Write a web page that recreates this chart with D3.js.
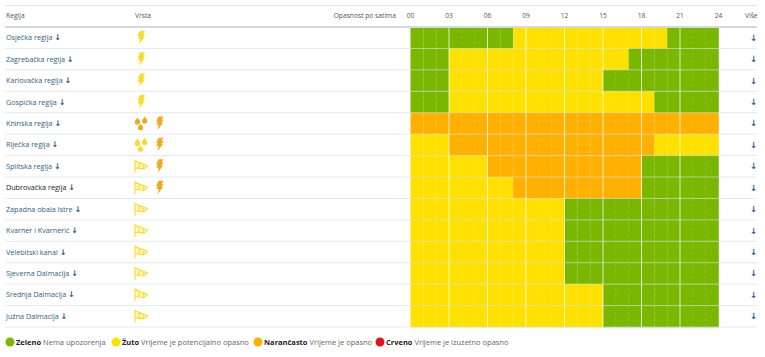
<!DOCTYPE html>
<html lang="hr">
<head>
<meta charset="UTF-8"/>
<title>Opasnost po satima</title>
<script src="https://d3js.org/d3.v7.min.js"></script>
<style>
	html,body{margin:0;padding:0;background:#fff;overflow:hidden;}
	svg{display:block;font-family:"Open Sans",sans-serif;}
</style>
</head>
<body>
<script>

var w=765;
var h=357;

// regions, top to bottom
var regions=["Osječka regija","Zagrebačka regija","Karlovačka regija","Gospićka regija","Kninska regija","Riječka regija","Splitska regija","Dubrovačka regija","Zapadna obala Istre","Kvarner i Kvarnerić","Velebitski kanal","Sjeverna Dalmacija","Srednja Dalmacija","Južna Dalmacija"];

// warning level for every hour 00-23: 0 green, 1 yellow, 2 orange
var osijek   =[0,0,0,0,0,0,0,0,1,1,1,1,1,1,1,1,1,1,1,1,0,0,0,0];
var zagreb   =[0,0,0,1,1,1,1,1,1,1,1,1,1,1,1,1,1,0,0,0,0,0,0,0];
var karlovac =[0,0,0,1,1,1,1,1,1,1,1,1,1,1,1,0,0,0,0,0,0,0,0,0];
var gospic   =[0,0,0,1,1,1,1,1,1,1,1,1,1,1,1,1,1,1,1,0,0,0,0,0];
var knin     =[2,2,2,2,2,2,2,2,2,2,2,2,2,2,2,2,2,2,2,2,2,2,2,2];
var rijeka   =[1,1,1,2,2,2,2,2,2,2,2,2,2,2,2,2,2,2,2,1,1,1,1,1];
var split    =[1,1,1,1,1,1,2,2,2,2,2,2,2,2,2,2,2,2,0,0,0,0,0,0];
var dubrovnik=[1,1,1,1,1,1,1,1,2,2,2,2,2,2,2,2,2,2,0,0,0,0,0,0];
var istra    =[1,1,1,1,1,1,1,1,1,1,1,1,0,0,0,0,0,0,0,0,0,0,0,0];
var kvarner  =[1,1,1,1,1,1,1,1,1,1,1,1,0,0,0,0,0,0,0,0,0,0,0,0];
var velebit  =[1,1,1,1,1,1,1,1,1,1,1,1,0,0,0,0,0,0,0,0,0,0,0,0];
var sjeverna =[1,1,1,1,1,1,1,1,1,1,1,1,0,0,0,0,0,0,0,0,0,0,0,0];
var srednja  =[1,1,1,1,1,1,1,1,1,1,1,1,1,1,1,0,0,0,0,0,0,0,0,0];
var juzna    =[1,1,1,1,1,1,1,1,1,1,1,1,1,1,1,0,0,0,0,0,0,0,0,0];
var levels=[osijek,zagreb,karlovac,gospic,knin,rijeka,split,dubrovnik,istra,kvarner,velebit,sjeverna,srednja,juzna];

// warning type icons per region, name + level
var vrsta=[
	[["bolt",1]],[["bolt",1]],[["bolt",1]],[["bolt",1]],
	[["rain",2],["bolt",2]],
	[["rain",1],["bolt",2]],
	[["wind",1],["bolt",2]],
	[["wind",1],["bolt",2]],
	[["wind",1]],[["wind",1]],[["wind",1]],[["wind",1]],[["wind",1]],[["wind",1]]
];

var hourTicks=[0,3,6,9,12,15,18,21,24];
var hourLabels=["00","03","06","09","12","15","18","21","24"];

var colors=["#79b700","#ffe100","#ffb000","#e2141c"];
var iconColors=["#79b700","#f7dc2e","#eeaa22"];
var legendNames=["Zeleno","Žuto","Narančasto","Crveno"];
var legendTexts=["Nema upozorenja","Vrijeme je potencijalno opasno","Vrijeme je opasno","Vrijeme je izuzetno opasno"];

var padLeft=410.5, padRight=718.5, gridTop=27, gridBottom=327;

var xScale=d3.scaleLinear().domain([0,24]).range([padLeft,padRight]);
var yScale=d3.scaleBand().domain(d3.range(regions.length)).range([gridTop,gridBottom]);

var svg=d3.select("body").append("svg").attr("width",w).attr("height",h);

// hourly cells
var rows=svg.selectAll("g.row").data(levels).enter().append("g")
	.attr("class","row")
	.attr("transform",function(d,i){return "translate(0,"+yScale(i)+")";});

rows.selectAll("rect").data(function(d){return d;}).enter().append("rect")
	.attr("x",function(d,i){return xScale(i);})
	.attr("width",xScale(1)-xScale(0)+0.3)
	.attr("height",yScale.bandwidth()+0.3)
	.attr("fill",function(d){return colors[d];});

// dashed line each hour, white line each third hour
svg.selectAll("line.hour").data(d3.range(1,24).filter(function(d){return d%3!=0;})).enter().append("line")
	.attr("x1",function(d){return xScale(d);})
	.attr("x2",function(d){return xScale(d);})
	.attr("y1",gridTop-3).attr("y2",gridBottom)
	.attr("stroke","#fff").attr("stroke-opacity",0.16).attr("stroke-dasharray","3,3");

svg.selectAll("line.three").data(hourTicks.slice(1,-1)).enter().append("line")
	.attr("x1",function(d){return xScale(d);})
	.attr("x2",function(d){return xScale(d);})
	.attr("y1",gridTop-3).attr("y2",gridBottom)
	.attr("stroke","#fff").attr("stroke-opacity",0.75);

// table lines
svg.append("line").attr("x1",5).attr("x2",757).attr("y1",5.5).attr("y2",5.5).attr("stroke","#dfe1e3");
svg.selectAll("line.sep").data(d3.range(1,regions.length+1)).enter().append("line")
	.attr("x1",5).attr("x2",757)
	.attr("y1",function(d){return yScale.step()*d+gridTop;})
	.attr("y2",function(d){return yScale.step()*d+gridTop;})
	.attr("stroke","#d9dce0").attr("stroke-opacity",0.65);
svg.append("line").attr("x1",5).attr("x2",757).attr("y1",gridTop).attr("y2",gridTop)
	.attr("stroke","#d5d8dc").attr("stroke-width",2);

// header
var header=svg.append("g").attr("font-size",6.7).attr("fill","#555");
header.append("text").attr("x",6).attr("y",18).text("Regija");
header.append("text").attr("x",135).attr("y",18).text("Vrsta");
header.append("text").attr("x",396).attr("y",18).attr("text-anchor","end").text("Opasnost po satima");
header.append("text").attr("x",745).attr("y",18).text("Više");
header.selectAll("text.hour").data(hourLabels).enter().append("text")
	.attr("x",function(d,i){return xScale(hourTicks[i]);})
	.attr("y",18)
	.attr("text-anchor","middle")
	.text(function(d){return d;});

// region names with the arrow
var names=svg.selectAll("text.name").data(regions).enter().append("text")
	.attr("class","name")
	.attr("x",6)
	.attr("y",function(d,i){return yScale(i)+yScale.bandwidth()/2+2.5;})
	.attr("font-size",7.2)
	.attr("fill",function(d,i){return i==7?"#222":"#2f6080";})
	.text(function(d){return d+" ";});
names.append("tspan").attr("font-family","DejaVu Sans").attr("font-weight","bold").attr("font-size",8).attr("fill","#33526b").text("↓");

// arrows in the Više column
svg.selectAll("text.more").data(regions).enter().append("text")
	.attr("x",753.5)
	.attr("y",function(d,i){return yScale(i)+yScale.bandwidth()/2+3;})
	.attr("text-anchor","middle")
	.attr("font-family","DejaVu Sans").attr("font-weight","bold").attr("font-size",8.6)
	.attr("fill","#33629a")
	.text("↓");

// icons, drawn around 0,0
var iconPaths={
	bolt:"M-1,-7 L4,-7 L2.2,-3.8 L4.2,-3.8 L2,-0.8 L3.6,-0.8 L-2,6.5 L-0.8,1.4 L-3.2,1.4 L-1.8,-1.6 L-3.4,-1.6 Z",
	rain:"M-3.4,-6 C-2.4,-4.4 -0.8,-3.2 -0.8,-1.4 A2.7,2.7 0 0 1 -6.2,-1.4 C-6.2,-3.2 -4.4,-4.4 -3.4,-6 Z M3.8,-7 C4.8,-5.4 6.4,-4.2 6.4,-2.4 A2.7,2.7 0 0 1 1,-2.4 C1,-4.2 2.8,-5.4 3.8,-7 Z M-0.4,0.4 C0.6,2 2.2,3.2 2.2,4.2 A2.7,2.7 0 0 1 -3.2,4.2 C-3.2,3.2 -1.4,2 -0.4,0.4 Z",
	wind:"M-6,-6.5 L-6,6.5 M-6,-5.5 L6.5,-0.5 L3,2.6 L-6,1.6 Z M-1.8,-3.8 L-1.8,2.1 M2.2,-2.2 L2.2,2.5"
};

svg.selectAll("g.icons").data(vrsta).enter().append("g")
	.attr("transform",function(d,i){return "translate(0,"+(yScale(i)+yScale.bandwidth()/2)+")";})
	.each(function(list){
		d3.select(this).selectAll("path").data(list).enter().append("path")
			.attr("transform",function(d,i){
				return "translate("+(i==1?159.5:141)+",0)";
			})
			.attr("d",function(d){return iconPaths[d[0]];})
			.attr("fill",function(d){return d[0]=="wind"?"#fdf6c4":iconColors[d[1]];})
			.attr("stroke",function(d){return d[0]=="wind"?iconColors[d[1]]:"none";})
			.attr("stroke-width",1.1);
	});

// legend
var legendX=[10,116,258,380];
var legend=svg.selectAll("g.legend").data(legendNames).enter().append("g")
	.attr("transform",function(d,i){return "translate("+legendX[i]+",342)";});
legend.append("circle").attr("r",4.5).attr("fill",function(d,i){return colors[i];});
legend.append("text")
	.attr("x",6).attr("y",3)
	.attr("font-size",7.5)
	.attr("fill","#666")
	.each(function(d,i){
		var t=d3.select(this);
		t.append("tspan").attr("font-weight","bold").attr("fill","#222").text(d);
		t.append("tspan").text(" "+legendTexts[i]);
	});

</script>
</body>
</html>
